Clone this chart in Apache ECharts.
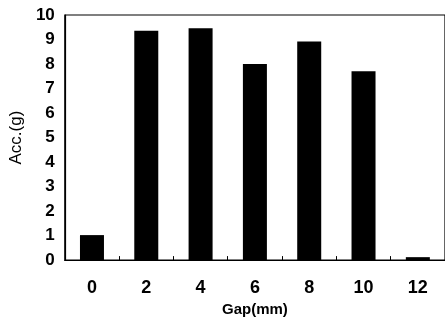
<!DOCTYPE html>
<html>
<head>
<meta charset="utf-8">
<script src="https://cdn.jsdelivr.net/npm/echarts@6/dist/echarts.min.js"></script>
<style>
  html, body { margin: 0; padding: 0; background: #fff; }
  #chart { width: 445px; height: 322px; }
</style>
</head>
<body>
<div id="chart"></div>
<script>
var gapLabels = ['0', '2', '4', '6', '8', '10', '12'];
var accValues = [1.02, 9.36, 9.46, 8.0, 8.92, 7.7, 0.12];
var yTicks = [0, 1, 2, 3, 4, 5, 6, 7, 8, 9, 10];

var myChart = echarts.init(document.getElementById('chart'));

var option = {
    animation: false,
    backgroundColor: '#fff',
    grid: {
        left: 60,
        top: 15,
        width: 391,
        height: 247,
        show: true,
        borderColor: '#000',
        borderWidth: 1.2,
        backgroundColor: 'transparent'
    },
    xAxis: {
        type: 'category',
        data: gapLabels,
        name: 'Gap(mm)',
        nameLocation: 'middle',
        nameGap: 34,
        nameTextStyle: {
            fontFamily: 'Liberation Sans',
            fontSize: 15,
            fontWeight: 'bold',
            color: '#000'
        },
        axisLine: { lineStyle: { color: '#000', width: 1.2 } },
        axisTick: { show: true, inside: true, length: 4, lineStyle: { color: '#000' } },
        axisLabel: {
            margin: 19,
            fontFamily: 'Liberation Sans',
            fontSize: 18,
            fontWeight: 'bold',
            color: '#000'
        }
    },
    yAxis: {
        type: 'value',
        min: yTicks[0],
        max: yTicks[yTicks.length - 1],
        interval: 1,
        name: 'Acc.(g)',
        nameLocation: 'middle',
        nameGap: 31,
        nameRotate: 90,
        nameTextStyle: {
            fontFamily: 'Liberation Sans',
            fontSize: 17,
            color: '#000'
        },
        axisLine: { show: true, lineStyle: { color: '#000', width: 1.2 } },
        axisTick: { show: false },
        splitLine: { show: false },
        axisLabel: {
            margin: 10,
            fontFamily: 'Liberation Sans',
            fontSize: 17,
            fontWeight: 'bold',
            color: '#000'
        }
    },
    series: [{
        type: 'bar',
        data: accValues,
        barWidth: 24,
        itemStyle: { color: '#000' }
    }]
};
myChart.setOption(option, true);
</script>
</body>
</html>
